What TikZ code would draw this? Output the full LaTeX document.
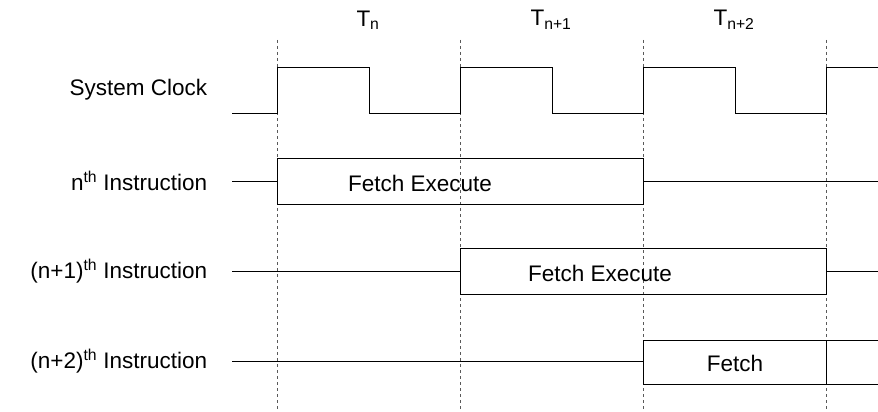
\documentclass[tikz,border=0pt]{standalone}
\usepackage{fontspec}
\setmainfont{Liberation Sans}
\begin{document}
\begin{tikzpicture}[x=1pt,y=-1pt,line width=0.9pt,
    sig/.style={draw=black},
    grid/.style={dashed,line width=0.5pt,gray!70!black},
    lbl/.style={anchor=east,font=\fontsize{22.5}{26}\selectfont},
    txt/.style={font=\fontsize{22.5}{26}\selectfont}]
    \useasboundingbox (0,0) rectangle (878,412);

    % time slots
    \foreach \x in {277,460,643,826}
        \draw [grid] (\x,40) -- (\x,412);
    \node [txt] (tn) at (368,20) {T\textsubscript{n}};
    \node [txt] (tn1) at (551,20) {T\textsubscript{n+1}};
    \node [txt] (tn2) at (734,20) {T\textsubscript{n+2}};

    % clock
    \node [lbl] (clk) at (211,90) {System Clock};
    \draw [sig] (232,113) -- (277,113) -- (277,67) -- (369,67) -- (369,113)
        -- (460,113) -- (460,67) -- (552,67) -- (552,113) -- (643,113)
        -- (643,67) -- (735,67) -- (735,113) -- (826,113) -- (826,67) -- (878,67);

    % n-th instruction
    \node [lbl] (in) at (211,181) {n\textsuperscript{th} Instruction};
    \draw [sig] (232,181) -- (277,181) (643,181) -- (878,181);
    \draw [sig] (277,158) rectangle (643,204);
    \node [txt] (fen) at (420,183) {Fetch Execute};

    % (n+1)-th instruction
    \node [lbl] (in1) at (211,271) {(n+1)\textsuperscript{th} Instruction};
    \draw [sig] (232,271) -- (460,271) (826,271) -- (878,271);
    \draw [sig] (460,248) rectangle (826,294);
    \node [txt] (fen1) at (600,273) {Fetch Execute};

    % (n+2)-th instruction
    \node [lbl] (in2) at (211,361) {(n+2)\textsuperscript{th} Instruction};
    \draw [sig] (232,361) -- (643,361);
    \draw [sig] (878,340) -- (643,340) -- (643,384) -- (878,384);
    \draw [sig] (826,340) -- (826,384);
    \node [txt] (fen2) at (735,363) {Fetch};
\end{tikzpicture}
\end{document}
